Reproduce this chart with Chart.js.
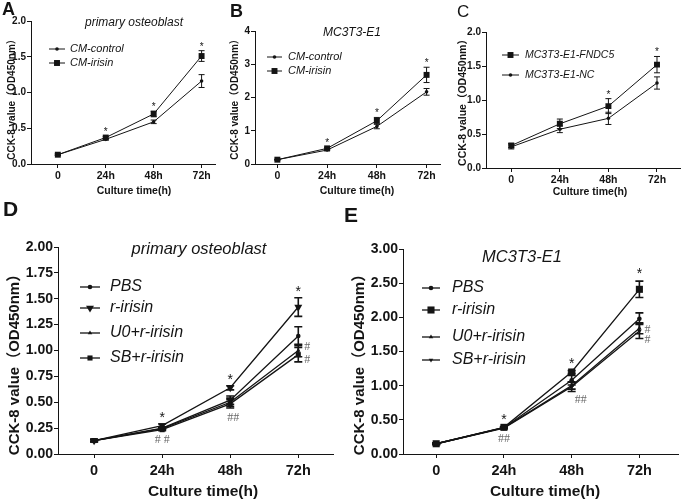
<!DOCTYPE html>
<html>
<head>
<meta charset="utf-8">
<style>
  body { margin: 0; background: #fff; }
  #wrap { position: relative; width: 685px; height: 504px; overflow: hidden; }
  canvas { position: absolute; }
</style>
<script src="https://cdn.jsdelivr.net/npm/chart.js"></script>
</head>
<body>
<div id="wrap">
  <canvas id="cA" style="left:0px;top:0px" width="228" height="200"></canvas>
  <canvas id="cB" style="left:228px;top:0px" width="228" height="200"></canvas>
  <canvas id="cC" style="left:456px;top:0px" width="229" height="200"></canvas>
  <canvas id="cD" style="left:0px;top:200px" width="342" height="304"></canvas>
  <canvas id="cE" style="left:342px;top:200px" width="343" height="304"></canvas>
</div>
<script>
// x categories
var times = ['0', '24h', '48h', '72h'];

// A - primary osteoblast, conditioned medium
var aControl    = [0.13, 0.345, 0.59, 1.16];
var aControlErr = [0.01, 0.01, 0.025, 0.09];
var aIrisin     = [0.13, 0.37, 0.70, 1.51];
var aIrisinErr  = [0.01, 0.015, 0.04, 0.075];

// B - MC3T3-E1, conditioned medium
var bControl    = [0.13, 0.42, 1.13, 2.17];
var bControlErr = [0.01, 0.02, 0.07, 0.10];
var bIrisin     = [0.13, 0.47, 1.30, 2.68];
var bIrisinErr  = [0.01, 0.03, 0.10, 0.23];

// C - FNDC5 overexpression
var cFndc5    = [0.33, 0.65, 0.91, 1.52];
var cFndc5Err = [0.03, 0.07, 0.11, 0.12];
var cNC       = [0.31, 0.57, 0.73, 1.25];
var cNCErr    = [0.03, 0.05, 0.09, 0.09];

// D - primary osteoblast, inhibitors
var dPBS       = [0.13, 0.25, 0.52, 1.14];
var dPBSErr    = [0.01, 0.01, 0.04, 0.09];
var dIrisin    = [0.13, 0.275, 0.64, 1.42];
var dIrisinErr = [0.01, 0.015, 0.02, 0.09];
var dU0        = [0.13, 0.245, 0.50, 1.00];
var dU0Err     = [0.01, 0.01, 0.04, 0.06];
var dSB        = [0.13, 0.235, 0.485, 0.96];
var dSBErr     = [0.01, 0.01, 0.04, 0.07];

// E - MC3T3-E1, inhibitors
var ePBS       = [0.15, 0.385, 1.08, 1.98];
var ePBSErr    = [0.01, 0.01, 0.07, 0.085];
var eIrisin    = [0.15, 0.39, 1.20, 2.41];
var eIrisinErr = [0.01, 0.01, 0.02, 0.12];
var eU0        = [0.15, 0.385, 1.00, 1.84];
var eU0Err     = [0.01, 0.01, 0.05, 0.08];
var eSB        = [0.15, 0.38, 0.985, 1.80];
var eSBErr     = [0.01, 0.01, 0.07, 0.11];

var FONT = '"Liberation Sans", Arial, "Noto Sans CJK SC", sans-serif';
var INK = '#141414';
var yTitleText = 'CCK-8 value\uFF08OD450nm\uFF09';

function drawMarker(ctx, style, r, rot, x, y){
  ctx.beginPath();
  if (style === 'rect') {
    var h = r * Math.SQRT1_2;
    ctx.rect(x - h, y - h, 2 * h, 2 * h);
  } else if (style === 'triangle') {
    var a = rot ? Math.PI : 0;
    for (var k = 0; k < 3; k++) {
      var ang = a + k * 2 * Math.PI / 3;
      var px = x + Math.sin(ang) * r, py = y - Math.cos(ang) * r;
      if (k === 0) ctx.moveTo(px, py); else ctx.lineTo(px, py);
    }
    ctx.closePath();
  } else {
    ctx.arc(x, y, r, 0, Math.PI * 2);
  }
  ctx.fill();
}

function makeExtras(p){
  return {
    id: 'extras',
    afterDatasetsDraw: function(chart){
      var c = chart.ctx, xs = chart.scales.x, ys = chart.scales.y;
      c.save();
      c.strokeStyle = INK;
      c.lineWidth = p.errW;
      // error bars
      p.series.forEach(function(s){
        s.values.forEach(function(v, i){
          var x = xs.getPixelForValue(i);
          var t = ys.getPixelForValue(v + s.errs[i]);
          var b = ys.getPixelForValue(v - s.errs[i]);
          c.beginPath();
          c.moveTo(x, t); c.lineTo(x, b);
          c.moveTo(x - p.cap, t); c.lineTo(x + p.cap, t);
          c.moveTo(x - p.cap, b); c.lineTo(x + p.cap, b);
          c.stroke();
        });
      });
      // significance stars
      c.fillStyle = INK;
      c.textAlign = 'center';
      c.textBaseline = 'alphabetic';
      c.font = p.starFont + 'px ' + FONT;
      p.stars.forEach(function(i){
        var top = Infinity;
        p.series.forEach(function(s){
          top = Math.min(top, ys.getPixelForValue(s.values[i] + s.errs[i]));
        });
        c.fillText('*', xs.getPixelForValue(i), top - p.starGap);
      });
      // hash marks
      c.fillStyle = '#6a6a6a';
      c.textBaseline = 'middle';
      c.font = p.hashFont + 'px "Liberation Serif", serif';
      p.hashes.forEach(function(h){
        var y;
        if (h.s === undefined) {
          y = -Infinity;
          p.series.forEach(function(s){
            y = Math.max(y, ys.getPixelForValue(s.values[h.i] - s.errs[h.i]));
          });
        } else {
          y = ys.getPixelForValue(p.series[h.s].values[h.i]);
        }
        c.fillText(h.t, xs.getPixelForValue(h.i) + (h.dx || 0), y + h.dy);
      });
      c.restore();
    },
    afterDraw: function(chart){
      var c = chart.ctx;
      c.save();
      c.fillStyle = INK;
      c.strokeStyle = INK;
      // panel letter
      c.textAlign = 'left';
      c.textBaseline = 'middle';
      c.font = p.letter.font + ' ' + FONT;
      c.fillText(p.letter.t, p.letter.x, p.letter.y);
      // panel title
      if (p.title) {
        c.textAlign = 'center';
        c.font = 'italic ' + p.title.size + 'px ' + FONT;
        c.fillText(p.title.t, p.title.x, p.title.y);
      }
      // legend
      var L = p.legend;
      c.lineWidth = p.lineW;
      p.series.forEach(function(s, k){
        var y = L.ys[k];
        c.beginPath();
        c.moveTo(L.x1, y); c.lineTo(L.x2, y);
        c.stroke();
        drawMarker(c, s.marker, s.size, s.rot, (L.x1 + L.x2) / 2, y);
        c.textAlign = 'left';
        c.textBaseline = 'middle';
        c.font = 'italic ' + L.size + 'px ' + FONT;
        c.fillText(s.name, L.tx, y);
      });
      // axis titles
      c.textAlign = 'center';
      c.textBaseline = 'middle';
      c.font = 'bold ' + p.xTitle.size + 'px ' + FONT;
      c.fillText('Culture time(h)', p.xTitle.x, p.xTitle.y);
      c.translate(p.yTitle.x, p.yTitle.y);
      c.rotate(-Math.PI / 2);
      c.font = 'bold ' + p.yTitle.size + 'px ' + FONT;
      c.fillText(yTitleText, 0, 0);
      c.restore();
    }
  };
}

function LineGraph(canvasID, p){
  var ctx = document.getElementById(canvasID).getContext('2d');
  var datasets = p.series.map(function(s){
    return {
      label: s.name,
      data: s.values.map(function(v, i){ return {x: i, y: v}; }),
      borderColor: INK,
      backgroundColor: INK,
      borderWidth: p.lineW,
      pointStyle: s.marker,
      pointRadius: s.size,
      pointRotation: s.rot || 0,
      pointBorderWidth: 0,
      tension: 0
    };
  });
  var chart = new Chart(ctx, {
    type: 'line',
    data: { datasets: datasets },
    options: {
      responsive: false,
      animation: false,
      devicePixelRatio: 1,
      layout: { padding: { left: 0, top: p.padT, right: p.padR, bottom: 0 } },
      plugins: { legend: { display: false }, tooltip: { enabled: false } },
      scales: {
        x: {
          type: 'linear',
          min: p.xMin, max: p.xMax,
          afterBuildTicks: function(s){ s.ticks = times.map(function(t, i){ return {value: i}; }); },
          afterFit: function(s){ s.height = p.xH; },
          grid: { drawOnChartArea: false, drawTicks: true, tickLength: p.tickLen, color: INK },
          border: { display: true, color: INK, width: 1 },
          ticks: {
            color: INK, padding: p.xPad, maxRotation: 0, autoSkip: false,
            font: { family: FONT, size: p.xFont, weight: 'bold' },
            callback: function(v){ return times[Math.round(v)]; }
          }
        },
        y: {
          min: p.yMin, max: p.yMax,
          afterFit: function(s){ s.width = p.yW; },
          grid: { drawOnChartArea: false, drawTicks: true, tickLength: p.tickLen, color: INK },
          border: { display: true, color: INK, width: 1 },
          ticks: {
            stepSize: p.yStep, color: INK, padding: 1,
            font: { family: FONT, size: p.yFont, weight: 'bold' },
            callback: function(v){ return v.toFixed(p.dec); }
          }
        }
      }
    },
    plugins: [makeExtras(p)]
  });
  return chart;
}

LineGraph('cA', {
  series: [
    { name: 'CM-control', values: aControl, errs: aControlErr, marker: 'circle', size: 1.8 },
    { name: 'CM-irisin', values: aIrisin, errs: aIrisinErr, marker: 'rect', size: 4.2 }
  ],
  padT: 21, padR: 13, yW: 31, xH: 36, xMin: -0.56, xMax: 3.28,
  yMin: 0, yMax: 2, yStep: 0.5, dec: 1,
  xFont: 10.5, yFont: 10, tickLen: 4, xPad: 2, lineW: 1, errW: 1, cap: 3,
  starFont: 10, starGap: 1, stars: [1, 2, 3], hashFont: 10, hashes: [],
  letter: { t: 'A', x: 2, y: 10, font: 'bold 18px' },
  title: { t: 'primary osteoblast', x: 134, y: 23, size: 12 },
  legend: { x1: 49, x2: 65, tx: 70, ys: [49, 63], size: 11 },
  yTitle: { x: 12, y: 97, size: 10 },
  xTitle: { x: 134, y: 191, size: 10.5 }
});

LineGraph('cB', {
  series: [
    { name: 'CM-control', values: bControl, errs: bControlErr, marker: 'circle', size: 1.8 },
    { name: 'CM-irisin', values: bIrisin, errs: bIrisinErr, marker: 'rect', size: 4.2 }
  ],
  padT: 31, padR: 16, yW: 27, xH: 36, xMin: -0.45, xMax: 3.27,
  yMin: 0, yMax: 4, yStep: 1, dec: 0,
  xFont: 10.5, yFont: 10, tickLen: 4, xPad: 2, lineW: 1, errW: 1, cap: 3,
  starFont: 10, starGap: 1, stars: [1, 2, 3], hashFont: 10, hashes: [],
  letter: { t: 'B', x: 2, y: 12, font: 'bold 18px' },
  title: { t: 'MC3T3-E1', x: 124, y: 33, size: 12 },
  legend: { x1: 39, x2: 54, tx: 60, ys: [57, 71], size: 11 },
  yTitle: { x: 7, y: 97, size: 10 },
  xTitle: { x: 129, y: 191, size: 10.5 }
});

LineGraph('cC', {
  series: [
    { name: 'MC3T3-E1-FNDC5', values: cFndc5, errs: cFndc5Err, marker: 'rect', size: 4.2 },
    { name: 'MC3T3-E1-NC', values: cNC, errs: cNCErr, marker: 'circle', size: 1.8 }
  ],
  padT: 32, padR: 3, yW: 30, xH: 32, xMin: -0.52, xMax: 3.49,
  yMin: 0, yMax: 2, yStep: 0.5, dec: 1,
  xFont: 10.5, yFont: 10, tickLen: 4, xPad: 2, lineW: 1, errW: 1, cap: 3,
  starFont: 10, starGap: 1, stars: [2, 3], hashFont: 10, hashes: [],
  letter: { t: 'C', x: 1, y: 12, font: '17px' },
  title: null,
  legend: { x1: 46, x2: 63, tx: 69, ys: [55, 75], size: 10.5 },
  yTitle: { x: 7, y: 100, size: 10.5 },
  xTitle: { x: 134, y: 192, size: 10.5 }
});

LineGraph('cD', {
  series: [
    { name: 'PBS', values: dPBS, errs: dPBSErr, marker: 'circle', size: 2.3 },
    { name: 'r-irisin', values: dIrisin, errs: dIrisinErr, marker: 'triangle', size: 4.6, rot: 180 },
    { name: 'U0+r-irisin', values: dU0, errs: dU0Err, marker: 'triangle', size: 2.6 },
    { name: 'SB+r-irisin', values: dSB, errs: dSBErr, marker: 'rect', size: 3.6 }
  ],
  padT: 47, padR: 9, yW: 58, xH: 50, xMin: -0.53, xMax: 3.51,
  yMin: 0, yMax: 2, yStep: 0.25, dec: 2,
  xFont: 14.5, yFont: 14, tickLen: 4, xPad: 4, lineW: 1.3, errW: 1.6, cap: 4,
  starFont: 14, starGap: 2, stars: [1, 2, 3], hashFont: 12,
  hashes: [
    { i: 1, t: '# #', dy: 9 },
    { i: 2, t: '##', dx: 3, dy: 10 },
    { i: 3, t: '#', s: 2, dx: 9, dy: -4 },
    { i: 3, t: '#', s: 3, dx: 9, dy: 5 }
  ],
  letter: { t: 'D', x: 3, y: 10, font: 'bold 21px' },
  title: { t: 'primary osteoblast', x: 199, y: 49, size: 16.5 },
  legend: { x1: 80, x2: 100, tx: 110, ys: [87, 108, 133, 158], size: 16 },
  yTitle: { x: 15, y: 161, size: 15 },
  xTitle: { x: 203, y: 292, size: 15.5 }
});

LineGraph('cE', {
  series: [
    { name: 'PBS', values: ePBS, errs: ePBSErr, marker: 'circle', size: 2.3 },
    { name: 'r-irisin', values: eIrisin, errs: eIrisinErr, marker: 'rect', size: 5 },
    { name: 'U0+r-irisin', values: eU0, errs: eU0Err, marker: 'triangle', size: 2.6 },
    { name: 'SB+r-irisin', values: eSB, errs: eSBErr, marker: 'triangle', size: 2.6, rot: 180 }
  ],
  padT: 49, padR: 7, yW: 61, xH: 50, xMin: -0.49, xMax: 3.57,
  yMin: 0, yMax: 3, yStep: 0.5, dec: 2,
  xFont: 14.5, yFont: 14, tickLen: 4, xPad: 4, lineW: 1.3, errW: 1.6, cap: 4,
  starFont: 14, starGap: 3, stars: [1, 2, 3], hashFont: 12,
  hashes: [
    { i: 1, t: '##', dy: 10 },
    { i: 2, t: '##', dx: 9, dy: 8 },
    { i: 3, t: '#', s: 2, dx: 8, dy: 2 },
    { i: 3, t: '#', s: 3, dx: 8, dy: 9 }
  ],
  letter: { t: 'E', x: 2, y: 16, font: 'bold 21px' },
  title: { t: 'MC3T3-E1', x: 180, y: 57, size: 16.5 },
  legend: { x1: 80, x2: 98, tx: 110, ys: [88, 110, 137, 160], size: 16 },
  yTitle: { x: 18, y: 161, size: 15 },
  xTitle: { x: 203, y: 292, size: 15.5 }
});
</script>
</body>
</html>
